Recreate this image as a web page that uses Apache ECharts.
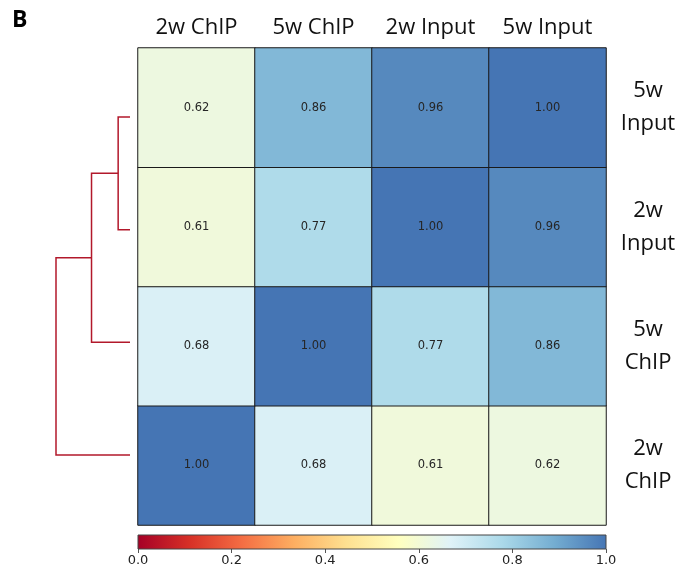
<!DOCTYPE html>
<html>
<head>
<meta charset="utf-8">
<script src="https://cdn.jsdelivr.net/npm/echarts@6/dist/echarts.min.js"></script>
<style>
  html, body { margin: 0; padding: 0; background: #fff; }
  #main { width: 681px; height: 573px; }
</style>
</head>
<body>
<div id="main"></div>
<script>
// samples, left to right along the top
var colNames = ['2w ChIP', '5w ChIP', '2w Input', '5w Input'];
// samples, bottom to top along the right side
var rowNames = ['2w\nChIP', '5w\nChIP', '2w\nInput', '5w\nInput'];
// correlation matrix, rows bottom to top, columns left to right
var rowBottom = [1.00, 0.68, 0.61, 0.62];
var rowSecond = [0.68, 1.00, 0.77, 0.86];
var rowThird  = [0.61, 0.77, 1.00, 0.96];
var rowTop    = [0.62, 0.86, 0.96, 1.00];
// dendrogram links: [leaf/cluster A pos, height A, pos B, height B, merge height]
// positions 0..3 from top to bottom of the dendrogram
var links = [
  [0, 0, 1, 0, 0.04],
  [0.5, 0.04, 2, 0, 0.13],
  [1.25, 0.13, 3, 0, 0.25]
];
// colourbar ticks
var barTicks = [0, 0.2, 0.4, 0.6, 0.8, 1.0];
// RdYlBu (truncated at the blue end, as in the figure)
var cmap = ['#a50026', '#d73027', '#f46d43', '#fdae61', '#fee090', '#ffffbf',
            '#e0f3f8', '#abd9e9', '#74add1', '#4575b4'];

var matrix = [rowBottom, rowSecond, rowThird, rowTop];
var heatData = [];
for (var r = 0; r < matrix.length; r++) {
  for (var c = 0; c < matrix[r].length; c++) {
    heatData.push([c, r, matrix[r][c]]);
  }
}

var gradStops = cmap.map(function (col, i) {
  return { offset: i / (cmap.length - 1), color: col };
});

var chart = echarts.init(document.getElementById('main'));
var option = {
  animation: false,
  textStyle: { fontFamily: 'DejaVu Sans' },
  title: {
    text: 'B',
    left: 7, top: 4,
    textStyle: { fontFamily: 'Open Sans', fontWeight: 'bold', fontSize: 23, color: '#000' }
  },
  grid: [
    { left: 138, top: 48, width: 468, height: 477 },
    { left: 56, top: 117, width: 74, height: 338 },
    { left: 138, top: 535, width: 468, height: 14 }
  ],
  xAxis: [
    {
      gridIndex: 0, type: 'category', data: colNames, position: 'top',
      axisLine: { show: false }, axisTick: { show: false },
      axisLabel: { fontFamily: 'Open Sans', fontSize: 22, color: '#111', margin: 9 }
    },
    {
      gridIndex: 1, type: 'value', min: 0, max: 0.25, inverse: true, show: false
    },
    {
      gridIndex: 2, type: 'value', min: 0, max: 1, interval: 0.2,
      axisLine: { show: false },
      axisTick: { show: true, length: 4, lineStyle: { color: '#555' } },
      splitLine: { show: false },
      axisLabel: {
        fontSize: 13, color: '#222', margin: 5,
        formatter: function (v) { return v.toFixed(1); }
      }
    }
  ],
  yAxis: [
    {
      gridIndex: 0, type: 'category', data: rowNames, position: 'right',
      axisLine: { show: false }, axisTick: { show: false },
      axisLabel: { fontFamily: 'Open Sans', fontSize: 22, color: '#111', lineHeight: 33, margin: 14, align: 'center', padding: [6, 0, 0, 56] }
    },
    {
      gridIndex: 1, type: 'value', min: 0, max: 3, inverse: true, show: false
    },
    {
      gridIndex: 2, type: 'value', min: 0, max: 1, show: false
    }
  ],
  visualMap: {
    show: false, min: 0, max: 1, seriesIndex: 0,
    inRange: { color: cmap }
  },
  series: [
    {
      type: 'heatmap', xAxisIndex: 0, yAxisIndex: 0,
      data: heatData,
      itemStyle: { borderColor: '#1a1a1a', borderWidth: 1 },
      label: {
        show: true, fontSize: 11.5, color: '#262626', fontFamily: 'DejaVu Sans',
        formatter: function (p) { return p.value[2].toFixed(2); }
      },
      emphasis: { disabled: true }
    },
    {
      type: 'custom', xAxisIndex: 1, yAxisIndex: 1,
      data: links,
      renderItem: function (params, api) {
        var a0 = api.coord([api.value(1), api.value(0)]);
        var aM = api.coord([api.value(4), api.value(0)]);
        var bM = api.coord([api.value(4), api.value(2)]);
        var b0 = api.coord([api.value(3), api.value(2)]);
        return {
          type: 'polyline',
          shape: { points: [a0, aM, bM, b0] },
          style: { stroke: '#b2182b', lineWidth: 1.5, fill: 'none' }
        };
      }
    },
    {
      type: 'custom', xAxisIndex: 2, yAxisIndex: 2,
      data: [[0, 1]],
      renderItem: function (params, api) {
        var p0 = api.coord([api.value(0), 1]);
        var p1 = api.coord([api.value(1), 0]);
        return {
          type: 'rect',
          shape: { x: p0[0], y: p0[1], width: p1[0] - p0[0], height: p1[1] - p0[1] },
          style: {
            fill: new echarts.graphic.LinearGradient(0, 0, 1, 0, gradStops),
            stroke: '#444', lineWidth: 1
          }
        };
      }
    }
  ]
};
chart.setOption(option);
</script>
</body>
</html>
